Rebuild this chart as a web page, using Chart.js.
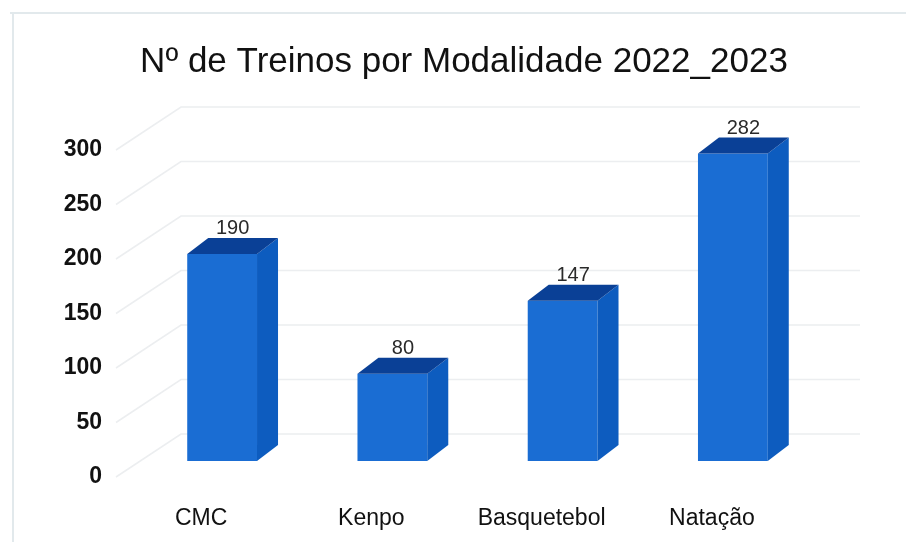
<!DOCTYPE html>
<html>
<head>
<meta charset="utf-8">
<script src="https://cdn.jsdelivr.net/npm/chart.js@4"></script>
<style>
  html, body { margin: 0; padding: 0; background: #fff; }
  #wrap { width: 906px; height: 542px; position: relative; }
</style>
</head>
<body>
<div id="wrap"><canvas id="c" width="906" height="542"></canvas></div>
<script>
var titleText = 'Nº de Treinos por Modalidade 2022_2023'
var categories = ['CMC', 'Kenpo', 'Basquetebol', 'Natação']
var treinos = [190, 80, 147, 282]
var yTicks = [0, 50, 100, 150, 200, 250, 300]

// 3d look: offset of bar depth, axis plane and back wall from the bar front
var depth = { dx: 21, dy: -16 }
var axisShift = { dx: -21, dy: 16 }
var wallShift = { dx: 44, dy: -27 }

var colFront = '#1a6dd3', colSide = '#0d5cbf', colTop = '#0a4096'
var gridCol = '#eceef0'
var font = "'Liberation Sans', Arial, sans-serif"

var walls3d = {
  id: 'walls3d',
  beforeDraw: function(chart){
    var ctx = chart.ctx
    ctx.save()
    ctx.fillStyle = '#fff'
    ctx.fillRect(0, 0, chart.width, chart.height)
    // scan frame
    ctx.strokeStyle = '#e2e9ec'
    ctx.lineWidth = 2
    ctx.beginPath()
    ctx.moveTo(10, 13); ctx.lineTo(chart.width, 13)
    ctx.moveTo(13, 13); ctx.lineTo(13, chart.height)
    ctx.stroke()
    ctx.restore()
  },
  beforeDatasetsDraw: function(chart){
    var ctx = chart.ctx, a = chart.chartArea, ys = chart.scales.y
    ctx.save()
    ctx.strokeStyle = gridCol
    ctx.lineWidth = 1.5
    yTicks.forEach(function(v){
      var py = ys.getPixelForValue(v)
      ctx.beginPath()
      ctx.moveTo(a.left + axisShift.dx, py + axisShift.dy)
      ctx.lineTo(a.left + wallShift.dx, py + wallShift.dy)
      ctx.lineTo(a.right + wallShift.dx - 2, py + wallShift.dy)
      ctx.stroke()
    })
    ctx.restore()
  },
  afterDatasetsDraw: function(chart){
    var ctx = chart.ctx
    var meta = chart.getDatasetMeta(0)
    ctx.save()
    meta.data.forEach(function(bar, i){
      var p = bar.getProps(['x', 'y', 'base', 'width'], true)
      var l = p.x - p.width / 2, r = p.x + p.width / 2
      ctx.fillStyle = colSide
      ctx.beginPath()
      ctx.moveTo(r, p.y)
      ctx.lineTo(r + depth.dx, p.y + depth.dy)
      ctx.lineTo(r + depth.dx, p.base + depth.dy)
      ctx.lineTo(r, p.base)
      ctx.closePath()
      ctx.fill()
      ctx.fillStyle = colTop
      ctx.beginPath()
      ctx.moveTo(l, p.y)
      ctx.lineTo(l + depth.dx, p.y + depth.dy)
      ctx.lineTo(r + depth.dx, p.y + depth.dy)
      ctx.lineTo(r, p.y)
      ctx.closePath()
      ctx.fill()
      ctx.fillStyle = '#2a2a2a'
      ctx.font = '20px ' + font
      ctx.textAlign = 'center'
      ctx.textBaseline = 'bottom'
      ctx.fillText(treinos[i], p.x + depth.dx / 2, p.y + depth.dy + 1)
    })
    ctx.restore()
  },
  afterDraw: function(chart){
    var ctx = chart.ctx
    ctx.save()
    ctx.fillStyle = '#111'
    ctx.font = '35px ' + font
    ctx.textAlign = 'center'
    ctx.textBaseline = 'middle'
    ctx.fillText(titleText, 464, 62)
    ctx.restore()
  }
}

new Chart(document.getElementById('c'), {
  type: 'bar',
  data: {
    labels: categories,
    datasets: [{
      data: treinos,
      backgroundColor: colFront,
      borderWidth: 0,
      categoryPercentage: 1,
      barPercentage: 0.41
    }]
  },
  options: {
    responsive: false,
    animation: false,
    layout: { padding: { top: 134, right: 88, left: 0, bottom: 0 } },
    plugins: { legend: { display: false }, tooltip: { enabled: false }, title: { display: false } },
    scales: {
      x: {
        grid: { display: false, drawTicks: false },
        border: { display: false },
        ticks: { color: '#111', font: { family: font, size: 23 }, padding: 44, labelOffset: axisShift.dx, maxRotation: 0 },
        afterFit: function(s){ s.height = 81 }
      },
      y: {
        min: 0, max: 300,
        grid: { display: false, drawTicks: false },
        border: { display: false },
        ticks: { stepSize: 50, color: '#111', font: { family: font, size: 23, weight: 'bold' }, padding: 35, labelOffset: axisShift.dy },
        afterFit: function(s){ s.width = 137 }
      }
    }
  },
  plugins: [walls3d]
})
</script>
</body>
</html>
